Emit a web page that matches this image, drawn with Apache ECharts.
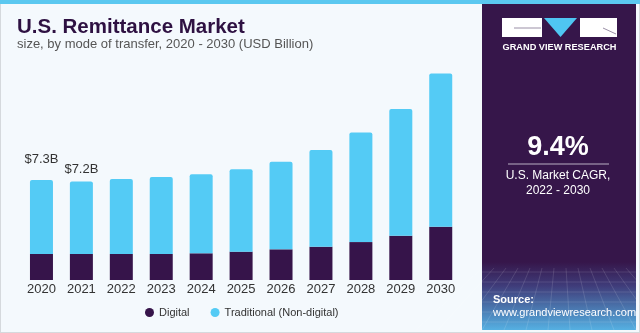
<!DOCTYPE html>
<html>
<head>
<meta charset="utf-8">
<script src="https://cdn.jsdelivr.net/npm/echarts@6/dist/echarts.min.js"></script>
<style>
html,body{margin:0;padding:0;background:#F4F9FD;}
#chart{width:640px;height:333px;}
</style>
</head>
<body>
<div id="chart"></div>
<script>
var years = ['2020','2021','2022','2023','2024','2025','2026','2027','2028','2029','2030'];
var digital = [1.90, 1.90, 1.90, 1.90, 1.95, 2.07, 2.24, 2.43, 2.77, 3.23, 3.89];
var traditional = [5.40, 5.30, 5.47, 5.62, 5.77, 6.03, 6.40, 7.06, 8.01, 9.27, 11.20];
var totalLabels = ['$7.3B', '$7.2B'];
var seriesNames = ['Digital', 'Traditional (Non-digital)'];

var FONT = '"Liberation Sans", Arial, sans-serif';
var chart = echarts.init(document.getElementById('chart'), null, {renderer:'canvas'});

var tradData = traditional.map(function(v, i){
  var d = {value: v};
  if (i < totalLabels.length) {
    d.label = {show: true, position: 'top', distance: i === 0 ? 14 : 6,
      formatter: totalLabels[i], color: '#333', fontSize: 13, fontFamily: FONT};
  }
  return d;
});

// decorative grid lines for the bottom of the right panel
var deco = [];
for (var k = 0; k < 6; k++) {
  var yy = 272 + k * 10;
  deco.push({type:'line', shape:{x1:482, y1:yy, x2:636, y2:yy},
    style:{stroke:'rgba(255,255,255,0.12)', lineWidth:1}, silent:true});
}
for (var j = 0; j < 14; j++) {
  var xt = 482 + j * 12;
  var xb = 482 + (j - 6.5) * 22 + 77;
  deco.push({type:'line', shape:{x1:xt, y1:268, x2:xb, y2:330},
    style:{stroke:'rgba(255,255,255,0.12)', lineWidth:1}, silent:true});
}

var graphics = [
  {type:'rect', shape:{x:0, y:0, width:640, height:333}, style:{fill:'#F4F9FD', stroke:'#D5D9DD', lineWidth:2}, z:-10, silent:true},
  {type:'rect', shape:{x:0, y:0, width:640, height:4}, style:{fill:'#5BC8F0'}, silent:true},
  {type:'rect', shape:{x:482, y:4, width:154, height:326}, style:{fill:'#36164A'}, silent:true},
  {type:'rect', shape:{x:482, y:262, width:154, height:68},
    style:{fill:new echarts.graphic.LinearGradient(0,0,0,1,[
      {offset:0, color:'#36164A'},{offset:0.35, color:'#3F3C7A'},{offset:1, color:'#55B0E2'}])}, silent:true}
].concat(deco).concat([
  // logo
  {type:'rect', shape:{x:502, y:18, width:40, height:19}, style:{fill:'#FFFFFF'}, silent:true},
  {type:'line', shape:{x1:514, y1:28, x2:541, y2:28}, style:{stroke:'#9A8FA6', lineWidth:1}, silent:true},
  {type:'polygon', shape:{points:[[544,18],[577,18],[560.5,37]]}, style:{fill:'#4FC6F2'}, silent:true},
  {type:'rect', shape:{x:580, y:18, width:37, height:19}, style:{fill:'#FFFFFF'}, silent:true},
  {type:'line', shape:{x1:603, y1:28, x2:616, y2:34}, style:{stroke:'#9A8FA6', lineWidth:1}, silent:true},
  {type:'text', style:{text:'GRAND VIEW RESEARCH', x:559.5, y:47, align:'center', verticalAlign:'middle',
    fill:'#FFFFFF', font:'bold 9.2px ' + FONT}, silent:true},
  // CAGR
  {type:'text', style:{text:'9.4%', x:558, y:148, align:'center', verticalAlign:'middle',
    fill:'#FFFFFF', font:'bold 27px ' + FONT}, silent:true},
  {type:'line', shape:{x1:508, y1:164, x2:609, y2:164}, style:{stroke:'#B9AFC3', lineWidth:1}, silent:true},
  {type:'text', style:{text:'U.S. Market CAGR,', x:558, y:176, align:'center', verticalAlign:'middle',
    fill:'#FFFFFF', font:'12px ' + FONT}, silent:true},
  {type:'text', style:{text:'2022 - 2030', x:558, y:191, align:'center', verticalAlign:'middle',
    fill:'#FFFFFF', font:'12px ' + FONT}, silent:true},
  // source
  {type:'text', style:{text:'Source:', x:493, y:300, align:'left', verticalAlign:'middle',
    fill:'#FFFFFF', font:'bold 11px ' + FONT}, silent:true},
  {type:'text', style:{text:'www.grandviewresearch.com', x:493, y:313, align:'left', verticalAlign:'middle',
    fill:'#FFFFFF', font:'11px ' + FONT}, silent:true},
  // title
  {type:'text', style:{text:'U.S. Remittance Market', x:17, y:27, align:'left', verticalAlign:'middle',
    fill:'#2E1142', font:'bold 20.5px ' + FONT}, silent:true},
  {type:'text', style:{text:'size, by mode of transfer, 2020 - 2030 (USD Billion)', x:17, y:44, align:'left', verticalAlign:'middle',
    fill:'#555555', font:'13px ' + FONT}, silent:true}
]);

var option = {
  backgroundColor: '#F4F9FD',
  animation: false,
  textStyle: {fontFamily: FONT},
  graphic: graphics,
  legend: {
    data: seriesNames,
    left: 140, top: 302,
    icon: 'circle', itemWidth: 9, itemHeight: 9, itemGap: 21,
    textStyle: {color: '#333', fontSize: 11, fontFamily: FONT}
  },
  grid: {left: 21.5, right: 179.3, top: 61, bottom: 53, containLabel: false},
  xAxis: {
    type: 'category', data: years,
    axisLine: {show: false}, axisTick: {show: false},
    axisLabel: {color: '#333', fontSize: 13, margin: 3, fontFamily: FONT}
  },
  yAxis: {
    type: 'value', min: 0, max: 16, show: false,
    splitLine: {show: false}
  },
  series: [
    {name: seriesNames[0], type: 'bar', stack: 'total', data: digital, barWidth: 23,
      itemStyle: {color: '#36144A'}},
    {name: seriesNames[1], type: 'bar', stack: 'total', data: tradData, barWidth: 23,
      itemStyle: {color: '#54CBF5', borderRadius: [2,2,0,0]}}
  ]
};
chart.setOption(option);
</script>
</body>
</html>
